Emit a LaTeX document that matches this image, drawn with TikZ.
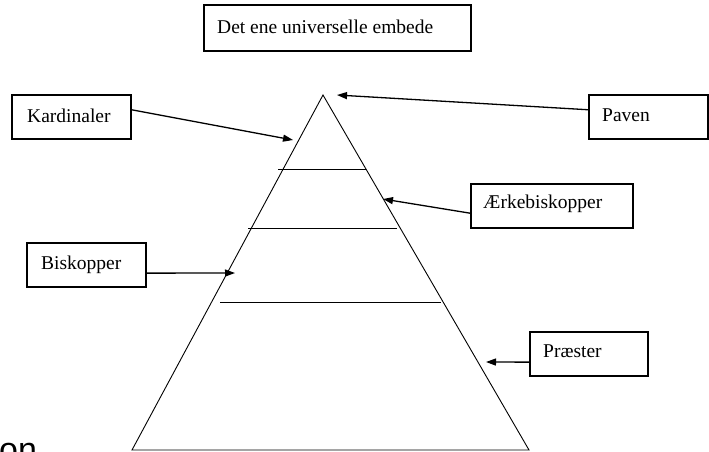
\documentclass[tikz,border=0pt]{standalone}
\usepackage{fontspec}
\setmainfont{Liberation Serif}
\newfontfamily\sansf{Liberation Sans}
\usetikzlibrary{arrows.meta,calc}
\begin{document}
\begin{tikzpicture}[x=1pt,y=-1pt,
  box/.style={draw,line width=1.2pt,rectangle,inner sep=0pt},
  lbl/.style={inner sep=0pt,anchor=base west,font=\fontsize{19.5}{22}\selectfont},
  arr/.style={line width=1.3pt,-{Triangle[length=10pt,width=7pt]}},
  thin/.style={line width=0.9pt}]
\useasboundingbox (0,0) rectangle (709,451);
\begin{scope}
\clip (0,0) rectangle (709,451);
\node[inner sep=0pt,anchor=base west,font=\sansf\fontsize{34}{38}\selectfont] (on) at (-1,461) {on};
\end{scope}
% triangle
\coordinate (A) at (323,95);
\coordinate (L) at (132,450);
\coordinate (R) at (529,450);
\draw[thin] (L) -- (A) -- (R) -- cycle;
\draw[thin] (278,169) coordinate (h1a) -- (366,169) coordinate (h1b);
\draw[thin] (248,228) coordinate (h2a) -- (397,228) coordinate (h2b);
\draw[thin] (220,302) coordinate (h3a) -- (441,302) coordinate (h3b);
% boxes
\node[box,minimum width=267pt,minimum height=46pt] (top) at (337.5,28) {};
\node[lbl] (toptxt) at (217,33) {Det ene universelle embede};
\node[box,minimum width=119pt,minimum height=44pt] (kard) at (71.5,117) {};
\node[lbl] (kardtxt) at (27,122) {Kardinaler};
\node[box,minimum width=119pt,minimum height=44pt] (pav) at (648.5,117) {};
\node[lbl] (pavtxt) at (602,121) {Paven};
\node[box,minimum width=162pt,minimum height=44pt] (aerk) at (552,206) {};
\node[lbl] (aerktxt) at (483,208) {Ærkebiskopper};
\node[box,minimum width=119pt,minimum height=44pt] (bisk) at (86.5,265) {};
\node[lbl] (bisktxt) at (41,269) {Biskopper};
\node[box,minimum width=118pt,minimum height=44pt] (praest) at (589,354) {};
\node[lbl] (praesttxt) at (543,357) {Præster};
% arrow targets
\coordinate (tk) at (293,140);
\coordinate (tp) at (337,95);
\coordinate (ta) at (383,199);
\coordinate (tb) at (235,273);
\coordinate (tr) at (486,362);
\draw[arr] ($(kard.north east)!0.34!(kard.south east)$) -- (tk);
\draw[arr] ($(pav.north west)!0.34!(pav.south west)$) -- (tp);
\draw[arr] ($(aerk.north west)!0.66!(aerk.south west)$) -- (ta);
\draw[arr] ($(bisk.north east)!0.68!(bisk.south east)$) -- (tb);
\draw[arr] ($(praest.north west)!0.68!(praest.south west)$) -- (tr);
\end{tikzpicture}
\end{document}
